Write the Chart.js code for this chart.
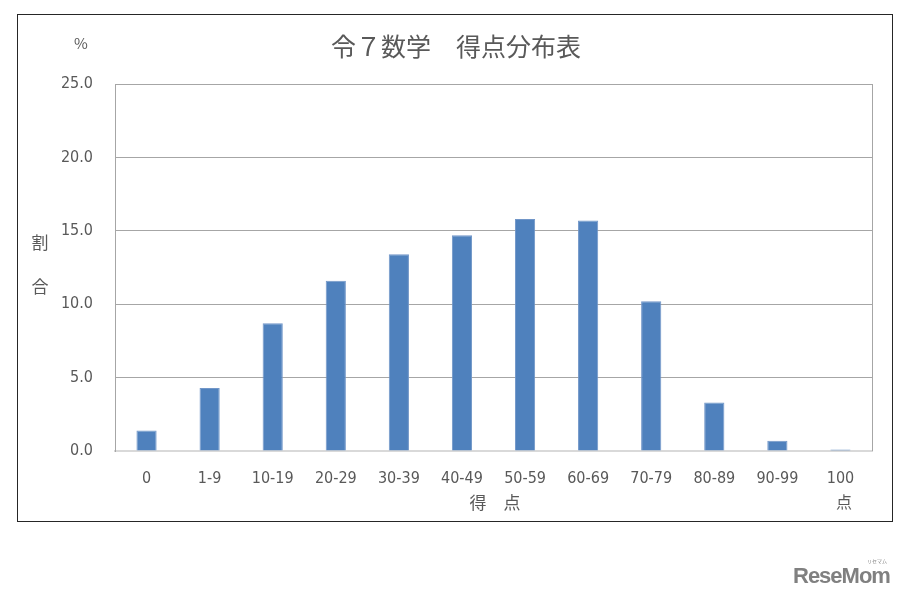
<!DOCTYPE html>
<html>
<head>
<meta charset="utf-8">
<script src="https://cdn.jsdelivr.net/npm/chart.js@4"></script>
<style>
  html, body { margin: 0; padding: 0; background: #fff; }
  #wrap { position: relative; width: 903px; height: 601px; }
  #logo { position: absolute; left: 793px; top: 563px; font: bold 22px "Liberation Sans", Arial, sans-serif; color: #808080; letter-spacing: -1px; }
  #logo small { position: absolute; left: 74px; top: -6px; font: 5px "Noto Sans CJK JP"; letter-spacing: 0; }
</style>
</head>
<body>
<div id="wrap">
  <canvas id="grafico" width="903" height="601"></canvas>
  <div id="logo">ReseMom<small>リセマム</small></div>
</div>
<script>
// datos del gráfico
const categorias = ["0", "1-9", "10-19", "20-29", "30-39", "40-49", "50-59", "60-69", "70-79", "80-89", "90-99", "100"];
const porcentajes = [1.4, 4.3, 8.7, 11.6, 13.4, 14.7, 15.8, 15.7, 10.2, 3.3, 0.7, 0.1];
const ticksY = [0, 5, 10, 15, 20, 25];

const gris = "#595959";
const fuenteNum = "'DejaVu Sans Condensed', 'Liberation Sans Narrow', 'Noto Sans CJK JP', sans-serif";
const fuenteJa = "'Noto Sans CJK JP', sans-serif";

// textos y marco exterior
const textos = {
  id: "textos",
  beforeDraw(chart) {
    const c = chart.ctx;
    c.save();
    c.fillStyle = "#fff";
    c.fillRect(0, 0, chart.width, chart.height);
    c.strokeStyle = "#262626";
    c.lineWidth = 1;
    c.strokeRect(17.5, 14.5, 875, 507);
    c.restore();
  },
  afterDraw(chart) {
    const c = chart.ctx;
    const a = chart.chartArea;
    c.save();
    // borde derecho del área
    c.strokeStyle = "#a6a6a6";
    c.lineWidth = 1;
    c.beginPath();
    c.moveTo(Math.round(a.right) + 0.5, a.top);
    c.lineTo(Math.round(a.right) + 0.5, a.bottom);
    c.stroke();

    c.fillStyle = gris;
    c.textAlign = "center";
    c.textBaseline = "middle";
    c.font = "25px " + fuenteJa;
    c.fillText("令７数学　得点分布表", 456, 46);
    c.font = "15px " + fuenteJa;
    c.fillText("%", 81, 43);
    c.font = "17px " + fuenteJa;
    c.fillText("割", 40, 243);
    c.fillText("合", 40, 287);
    c.fillText("得　点", 495, 503);
    c.font = "16px " + fuenteJa;
    c.fillText("点", 844, 502);
    c.restore();
  }
};

new Chart(document.getElementById("grafico"), {
  type: "bar",
  data: {
    labels: categorias,
    datasets: [{
      data: porcentajes,
      backgroundColor: "#4f81bd",
      borderColor: "#7196c8",
      borderWidth: 1,
      barPercentage: 0.32,
      categoryPercentage: 1
    }]
  },
  options: {
    responsive: false,
    animation: false,
    devicePixelRatio: 1,
    layout: { padding: { left: 0, top: 84, right: 31, bottom: 0 } },
    plugins: { legend: { display: false }, tooltip: { enabled: false } },
    scales: {
      x: {
        afterFit(s) { s.height = 150; },
        grid: { display: false },
        border: { color: "#d9d9d9", width: 2 },
        ticks: { color: gris, padding: 10, font: { family: fuenteNum, size: 16 } }
      },
      y: {
        min: 0,
        max: 25,
        afterFit(s) { s.width = 115; },
        afterBuildTicks(s) { s.ticks = ticksY.map(v => ({ value: v })); },
        grid: { color: "#a6a6a6", drawTicks: false },
        border: { color: "#a6a6a6" },
        ticks: {
          color: gris,
          padding: 22,
          font: { family: fuenteNum, size: 16 },
          callback: v => v.toFixed(1)
        }
      }
    }
  },
  plugins: [textos]
});
</script>
</body>
</html>
